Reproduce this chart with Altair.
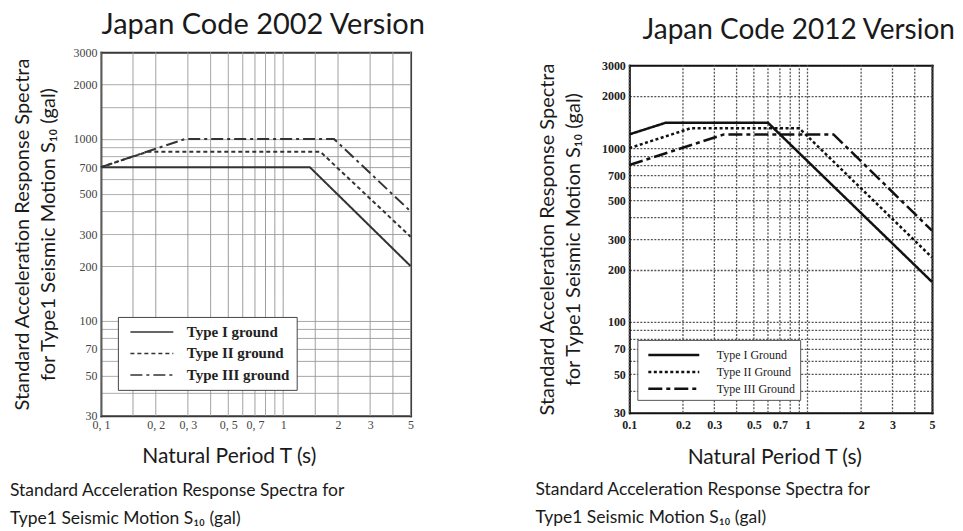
import altair as alt
import pandas as pd

# ---------------- data ----------------
ground_types_2002 = ["Type I ground", "Type II ground", "Type III ground"]
ground_types_2012 = ["Type I Ground", "Type II Ground", "Type III Ground"]

period_2002_I = [0.1, 1.4, 5.0]
accel_2002_I = [700, 700, 200]
period_2002_II = [0.1, 0.18, 1.6, 5.0]
accel_2002_II = [700, 850, 850, 290]
period_2002_III = [0.1, 0.29, 1.9, 5.0]
accel_2002_III = [700, 1000, 1000, 400]

period_2012_I = [0.1, 0.16, 0.6, 5.0]
accel_2012_I = [1200, 1400, 1400, 170]
period_2012_II = [0.1, 0.22, 0.9, 5.0]
accel_2012_II = [1000, 1300, 1300, 235]
period_2012_III = [0.1, 0.34, 1.4, 5.0]
accel_2012_III = [800, 1200, 1200, 335]

x_grid_2002 = [0.1, 0.15, 0.2, 0.3, 0.4, 0.5, 0.6, 0.7, 0.8, 0.9, 1, 1.5, 2, 3, 4, 5]
x_grid_2012 = [0.1, 0.2, 0.3, 0.4, 0.5, 0.6, 0.7, 0.8, 0.9, 1, 2, 3, 4, 5]
y_grid_2002 = [30, 40, 50, 60, 70, 80, 90, 100, 200, 300, 400, 500, 600, 700,
               800, 900, 1000, 1500, 2000, 3000]
y_grid_2012 = [30, 40, 50, 60, 70, 80, 90, 100, 200, 300, 400, 500, 600, 700,
               800, 900, 1000, 2000, 3000]

x_label_values = [0.1, 0.2, 0.3, 0.5, 0.7, 1, 2, 3, 5]
x_labels_2002 = ["0, 1", "0, 2", "0, 3", "0, 5", "0, 7", "1", "2", "3", "5"]
x_labels_2012 = ["0.1", "0.2", "0.3", "0.5", "0.7", "1", "2", "3", "5"]
y_label_values = [30, 50, 70, 100, 200, 300, 500, 700, 1000, 2000, 3000]
y_labels = ["30", "50", "70", "100", "200", "300", "500", "700", "1000", "2000", "3000"]

panel_titles = ["Japan Code 2002 Version", "Japan Code 2012 Version"]
y_title = ["Standard Acceleration Response Spectra", "for Type1  Seismic Motion S\u2081\u2080 (gal)"]
x_title = "Natural Period T (s)"
caption = ["Standard Acceleration Response Spectra for", "Type1  Seismic Motion S\u2081\u2080 (gal)"]

SANS = "Lato"
SERIF = "Liberation Serif"


def build_frame(types, periods, accels):
    rows = []
    for t, ps, acc in zip(types, periods, accels):
        for p, a in zip(ps, acc):
            rows.append({"ground": t, "T": p, "S": a})
    return pd.DataFrame(rows)


def label_expr(values, texts):
    expr = "''"
    for v, t in reversed(list(zip(values, texts))):
        expr = f"datum.value == {v} ? '{t}' : ({expr})"
    return expr


def make_panel(df, types, c):
    shift = c["shift"]
    xs = alt.Scale(type="log", domain=[0.1, 5], nice=False)
    ys = alt.Scale(type="log", domain=[30, 3000], nice=False, range=[c["h"] + shift, shift])
    frame = dict(domain=True, domainColor=c["frame_color"], domainWidth=2, domainCap="square")

    # vertical grid lines, one rule per grid period, spanning the y domain
    vgrid = alt.Chart(pd.DataFrame({"T": c["x_grid"]})).mark_rule(
        color=c["grid_color"], strokeWidth=c["grid_width"], strokeDash=c["grid_dash"]
    ).encode(
        x=alt.X("T:Q", scale=xs, axis=None),
        y=alt.YDatum(30, scale=ys, axis=None),
        y2=alt.Y2Datum(3000),
    )

    lines = alt.Chart(df).mark_line(
        color=c["line_color"], strokeWidth=c["line_width"], strokeCap="butt"
    ).encode(
        x=alt.X("T:Q", scale=xs, axis=alt.Axis(
            orient="bottom", values=c["x_grid"],
            labelExpr=label_expr(x_label_values, c["x_labels"]),
            grid=False, ticks=False, **frame,
            labelFont=SERIF, labelFontSize=12, labelFontWeight=c["label_weight"],
            labelColor=c["label_color"], labelPadding=c["x_label_pad"],
            labelFlush=False, labelOverlap=False,
            title=x_title, titleFont=SANS, titleFontSize=21, titleFontWeight="normal",
            titleColor="#1a1a1a", titlePadding=c["x_title_pad"], titleX=c["xtitle_x"])),
        y=alt.Y("S:Q", scale=ys, axis=alt.Axis(
            orient="left", values=c["y_grid"], labelExpr=label_expr(y_label_values, y_labels),
            grid=True, gridColor=c["grid_color"], gridDash=c["grid_dash"],
            gridWidth=c["grid_width"], gridOpacity=1, ticks=False, **frame,
            labelFont=SERIF, labelFontSize=12, labelFontWeight=c["label_weight"],
            labelColor=c["label_color"], labelPadding=4,
            labelFlush=False, labelOverlap=False,
            title=y_title, titleFont=SANS, titleFontSize=20, titleFontWeight="normal",
            titleColor="#1a1a1a", titleLineHeight=26, titlePadding=c["y_title_pad"])),
        strokeDash=alt.StrokeDash("ground:N", sort=types,
            scale=alt.Scale(domain=types, range=c["dashes"]),
            legend=alt.Legend(
                title=None, orient="none", legendX=c["leg_x"], legendY=c["leg_y"] + shift,
                direction="vertical", fillColor="white", strokeColor=c["leg_stroke"],
                padding=c["leg_pad"], rowPadding=c["leg_row_pad"],
                symbolType="M-3,0H3", symbolSize=c["sym_size"],
                symbolStrokeWidth=c["sym_width"], symbolStrokeColor=c["line_color"],
                symbolOffset=c["sym_offset"], labelOffset=c["lab_offset"],
                labelFont=SERIF, labelFontSize=c["leg_font"],
                labelFontWeight=c["leg_weight"], labelColor="#222", labelLimit=400)),
    )
    top_axis = alt.Chart(df).mark_point(opacity=0).encode(
        x=alt.X("T:Q", scale=xs, axis=alt.Axis(
            orient="top", labels=False, ticks=False, grid=False, offset=-shift, **frame,
            title=c["title"], titleFont=SANS, titleFontSize=c["title_size"],
            titleFontWeight="normal", titleColor="#1a1a1a", titlePadding=c["top_pad"],
            titleX=c["title_x"])),
    )
    right_axis = alt.Chart(df).mark_point(opacity=0).encode(
        y=alt.Y("S:Q", scale=ys, axis=alt.Axis(
            orient="right", labels=False, ticks=False, grid=False, title=None, **frame)),
    )
    return alt.layer(vgrid, lines, top_axis, right_axis).properties(
        width=c["w"], height=c["h"] + shift,
        title=alt.TitleParams(
            text=caption, orient="bottom", anchor="start", font=SANS, fontSize=17.5,
            fontWeight="normal", color="#1a1a1a", lineHeight=28, offset=c["cap_off"],
            dx=c["cap_dx"]),
    ).resolve_axis(x="independent", y="independent")


df_2002 = build_frame(ground_types_2002,
                      [period_2002_I, period_2002_II, period_2002_III],
                      [accel_2002_I, accel_2002_II, accel_2002_III])
df_2012 = build_frame(ground_types_2012,
                      [period_2012_I, period_2012_II, period_2012_III],
                      [accel_2012_I, accel_2012_II, accel_2012_III])

cfg_2002 = dict(
    w=310, h=364, shift=0, title=panel_titles[0], title_size=29, title_x=162, top_pad=13,
    xtitle_x=128, frame_color="#3a3a3a",
    line_color="#333333", line_width=2,
    dashes=[[1, 0], [4, 3], [12, 4, 3, 4]],
    x_grid=x_grid_2002, y_grid=y_grid_2002, x_labels=x_labels_2002,
    grid_color="#9a9a9a", grid_dash=[1, 0], grid_width=1,
    label_weight="normal", label_color="#444444", x_label_pad=4, x_title_pad=15,
    y_title_pad=14,
    leg_x=17, leg_y=265, leg_stroke="#444444", leg_pad=7, leg_row_pad=5.5,
    sym_size=205, sym_width=1.5, sym_offset=19, lab_offset=27, leg_font=15,
    leg_weight="bold", cap_off=15, cap_dx=-3,
)
cfg_2012 = dict(
    w=303, h=348, shift=13, title=panel_titles[1], title_size=28, title_x=169, top_pad=21,
    xtitle_x=145, frame_color="#111111",
    line_color="#111111", line_width=2.5,
    dashes=[[1, 0], [3, 2.5], [14, 4, 4, 4]],
    x_grid=x_grid_2012, y_grid=y_grid_2012, x_labels=x_labels_2012,
    grid_color="#555555", grid_dash=[2, 1.5], grid_width=1.3,
    label_weight="bold", label_color="#222222", x_label_pad=7, x_title_pad=16,
    y_title_pad=18,
    leg_x=8, leg_y=275, leg_stroke="#555555", leg_pad=5, leg_row_pad=1,
    sym_size=289, sym_width=2.5, sym_offset=21.5, lab_offset=33, leg_font=12,
    leg_weight="normal", cap_off=13, cap_dx=-2,
)

chart = alt.concat(
    make_panel(df_2002, ground_types_2002, cfg_2002),
    make_panel(df_2012, ground_types_2012, cfg_2012),
    columns=2, spacing=110,
).resolve_scale(strokeDash="independent").resolve_legend(strokeDash="independent").properties(
    align="none",
    padding={"left": 2, "top": 2, "right": 0, "bottom": 0},
    background="white",
).configure_view(stroke=None)

chart.save("out.html", embed_options={"renderer": "svg", "actions": False})
